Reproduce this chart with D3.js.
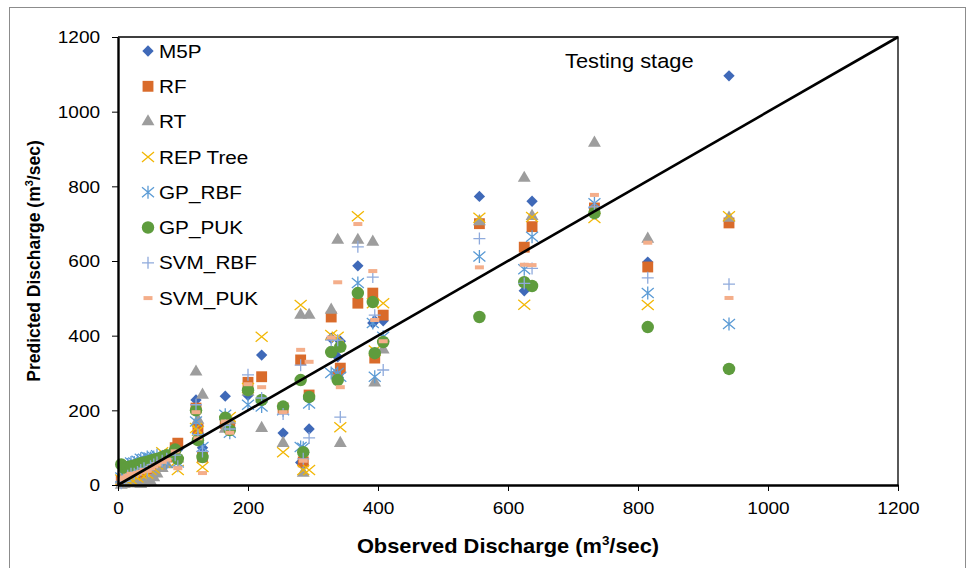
<!DOCTYPE html>
<html>
<head>
<meta charset="utf-8">
<script src="https://cdn.jsdelivr.net/npm/d3@7"></script>
<style>
  html, body { margin: 0; padding: 0; background: #fff; }
  svg { display: block; font-family: "Liberation Sans", Arial, Helvetica, sans-serif; }
</style>
</head>
<body>
<svg id="chart" width="969" height="568"></svg>
<script>
// ---------------- DATA ----------------
const seriesNames = ["M5P", "RF", "RT", "REP Tree", "GP_RBF", "GP_PUK", "SVM_RBF", "SVM_PUK"];
const xTicks = [0, 200, 400, 600, 800, 1000, 1200];
const yTicks = [0, 200, 400, 600, 800, 1000, 1200];

const observed = [5, 10, 15, 20, 25, 30, 35, 40, 45, 50, 55, 60, 68, 75, 88, 92,
  120, 123, 130, 165, 172, 200, 221, 254, 281, 285, 294, 328, 338, 342, 369, 392, 395, 408,
  556, 625, 637, 733, 815, 940];

const m5p = [10, 12, 18, 20, 25, 28, 30, 35, 40, 45, 50, 55, 65, 70, 90, 95,
  228, 140, 100, 238, 150, 240, 348, 139, 60, 55, 150, 393, 343, 385, 587, 434, 440, 440,
  773, 520, 760, 740, 597, 1096];
const rf = [12, 15, 20, 25, 22, 30, 35, 38, 42, 45, 55, 60, 70, 75, 100, 112,
  206, 150, 75, 165, 160, 275, 290, 206, 335, 62, 241, 450, 290, 313, 487, 514, 340, 455,
  700, 637, 692, 742, 584, 702];
const rt = [0, 2, 5, 8, 5, 3, 2, 5, 8, 10, 20, 30, 45, 55, 80, 70,
  303, 174, 241, 150, 174, 250, 152, 112, 455, 32, 455, 469, 656, 112, 656, 651, 274, 362,
  706, 822, 720, 916, 659, 715];
const repTree = [15, 20, 10, 15, 25, 20, 30, 35, 30, 40, 45, 55, 88, 60, 60, 40,
  153, 145, 48, 170, 182, 260, 397, 88, 482, 40, 40, 402, 397, 155, 720, 487, 360, 487,
  716, 483, 718, 715, 482, 720];
const gpRbf = [20, 25, 55, 60, 60, 65, 70, 70, 75, 72, 75, 80, 70, 60, 85, 60,
  170, 125, 102, 188, 140, 215, 210, 200, 102, 100, 218, 300, 300, 290, 541, 434, 290, 397,
  612, 578, 665, 755, 514, 431];
const gpPuk = [55, 45, 48, 50, 52, 55, 58, 60, 62, 65, 68, 70, 75, 80, 95, 70,
  200, 120, 75, 180, 147, 254, 228, 210, 281, 88, 236, 356, 281, 370, 514, 490, 353, 383,
  450, 543, 533, 728, 423, 311];
const svmRbf = [5, 10, 25, 30, 30, 35, 40, 45, 40, 50, 55, 60, 65, 70, 80, 50,
  215, 135, 90, 160, 150, 295, 233, 190, 321, 70, 126, 388, 388, 182, 638, 557, 455, 308,
  660, 540, 580, 745, 555, 538];
const svmPuk = [15, 20, 25, 30, 28, 32, 35, 40, 38, 45, 50, 55, 62, 68, 90, 45,
  195, 125, 32, 170, 140, 270, 262, 195, 362, 65, 330, 395, 543, 262, 699, 573, 442, 385,
  583, 590, 589, 777, 649, 501];

const seriesValues = [m5p, rf, rt, repTree, gpRbf, gpPuk, svmRbf, svmPuk];

// ---------------- STYLE ----------------
const colors = ["#3F69B8", "#D96B2B", "#9D9D9D", "#F2B705", "#5B9BD5", "#5E9C3D", "#8FAADC", "#F4AE8A"];
const markerKinds = ["diamond", "square", "triangle", "x", "asterisk", "circle", "plus", "dash"];
const SX = 1.12; // horizontal text stretch of the original picture

const svg = d3.select("#chart");
const W = 969, H = 568;
const margin = { left: 118, right: W - 898, top: 37, bottom: H - 485 };

svg.append("rect").attr("x", 9.5).attr("y", 7.5).attr("width", 956).attr("height", 575)
  .attr("fill", "#fff").attr("stroke", "#8c8c8c").attr("stroke-width", 1);

const x = d3.scaleLinear().domain([0, 1200]).range([margin.left, W - margin.right]);
const y = d3.scaleLinear().domain([0, 1200]).range([H - margin.bottom, margin.top]);

// plot frame (top & right)
svg.append("path")
  .attr("d", `M${x(0)},${y(1200)}H${x(1200)}V${y(0)}`)
  .attr("fill", "none").attr("stroke", "#000").attr("stroke-width", 1.3);

// marker path generators (relative to the data point)
function markerPath(kind) {
  const s = 6;
  switch (kind) {
    case "diamond": return d3.symbol(d3.symbolDiamond2, 82)();
    case "square": return d3.symbol(d3.symbolSquare, 118)();
    case "triangle": return d3.symbol(d3.symbolTriangle, 72)();
    case "circle": return d3.symbol(d3.symbolCircle, 122)();
    case "x": return `M${-s},${-5}L${s},${5}M${-s},${5}L${s},${-5}`;
    case "asterisk": return `M${-s},${-5}L${s},${5}M${-s},${5}L${s},${-5}M0,${-6.5}V6.5`;
    case "plus": return `M${-s},0H${s}M0,${-s}V${s}`;
    case "dash": return `M-4.5,-2h9v4h-9z`;
  }
}
function styleMarker(sel, i) {
  const kind = markerKinds[i];
  const filled = ["diamond", "square", "triangle", "circle", "dash"].includes(kind);
  sel.attr("d", markerPath(kind))
    .attr("fill", filled ? colors[i] : "none")
    .attr("stroke", filled ? "none" : colors[i])
    .attr("stroke-width", filled ? 0 : 1.3);
}

// points
seriesValues.forEach((vals, i) => {
  const g = svg.append("g").attr("class", "series-" + i);
  g.selectAll("path").data(observed.map((o, k) => ({ o, p: vals[k] })))
    .join("path")
    .attr("transform", d => `translate(${x(d.o)},${y(d.p)})`)
    .call(styleMarker, i);
});

// 1:1 line
svg.append("line")
  .attr("x1", x(0)).attr("y1", y(0)).attr("x2", x(1200)).attr("y2", y(1200))
  .attr("stroke", "#000").attr("stroke-width", 2.6);

// axes
const xAxis = svg.append("g").attr("transform", `translate(0,${y(0)})`)
  .call(d3.axisBottom(x).tickValues(xTicks).tickSize(6).tickSizeOuter(0).tickFormat(d3.format("d")));
const yAxis = svg.append("g").attr("transform", `translate(${x(0)},0)`)
  .call(d3.axisLeft(y).tickValues(yTicks).tickSize(6).tickSizeOuter(0).tickFormat(d3.format("d")));
[xAxis, yAxis].forEach(a => {
  a.select(".domain").attr("stroke", "#000").attr("stroke-width", 2.4);
  a.selectAll(".tick line").attr("stroke", "#000").attr("stroke-width", 1);
  a.selectAll(".tick text").attr("fill", "#000").attr("font-size", 17)
    .attr("font-family", "'Liberation Sans', Arial, sans-serif");
});
xAxis.selectAll(".tick text").attr("y", 17).attr("dy", "0.71em")
  .attr("transform", `scale(${SX},1)`);
yAxis.selectAll(".tick text").attr("x", -16).attr("dy", "0.34em")
  .attr("transform", `scale(${SX},1)`);

// axis titles
const xt = svg.append("text")
  .attr("transform", `translate(${508},${553}) scale(${SX},1)`)
  .attr("text-anchor", "middle").attr("font-size", 19.5).attr("font-weight", "bold");
xt.append("tspan").text("Observed Discharge (m");
xt.append("tspan").attr("font-size", 12).attr("dy", -8).text("3");
xt.append("tspan").attr("dy", 8).text("/sec)");

const yt = svg.append("text")
  .attr("transform", `translate(${40},${261}) rotate(-90)`)
  .attr("text-anchor", "middle").attr("font-size", 17.5).attr("font-weight", "bold");
yt.append("tspan").text("Predicted Discharge (m");
yt.append("tspan").attr("font-size", 11).attr("dy", -7).text("3");
yt.append("tspan").attr("dy", 7).text("/sec)");

// annotation
svg.append("text").attr("transform", `translate(565,68) scale(${SX},1)`)
  .attr("font-size", 19.5).text("Testing stage");

// legend
const legend = svg.append("g");
seriesNames.forEach((name, i) => {
  const cy = 51 + i * 35.3;
  legend.append("path").attr("transform", `translate(148,${cy})`).call(styleMarker, i);
  legend.append("text").attr("transform", `translate(159,${cy + 6.6}) scale(${SX},1)`)
    .attr("font-size", 18.5).text(name);
});
</script>
</body>
</html>
